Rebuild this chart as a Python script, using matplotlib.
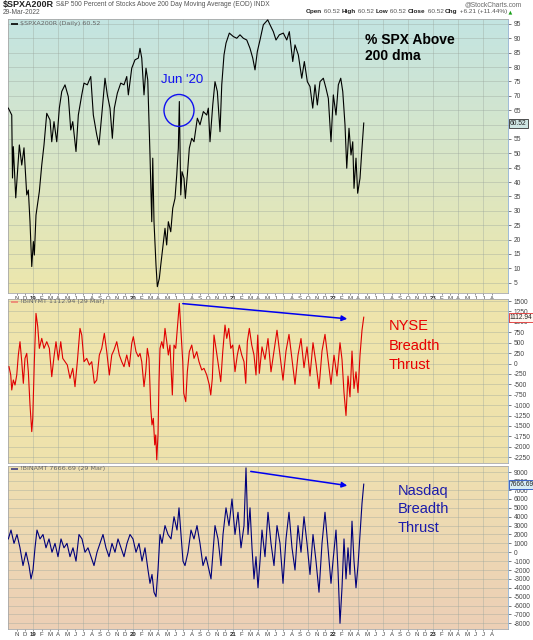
import numpy as np
import matplotlib
matplotlib.use("Agg")
import matplotlib.pyplot as plt
from matplotlib.patches import Ellipse

plt.rcParams['font.family'] = ['Liberation Sans', 'DejaVu Sans']

# time axis: months since Jan 2019 (0 = Jan 2019)
spx_t = [-3.0, -2.59, -2.5, -2.4, -2.11, -1.68, -1.39, -1.12, -0.79, -0.6, -0.4, -0.19, 0.0, 0.12,
         0.32, 0.72, 1.01, 1.28, 1.61, 2.0, 2.21, 2.48, 2.81, 3.12, 3.41, 3.8, 4.2, 4.49, 4.73, 5.12,
         5.4, 5.81, 6.08, 6.48, 6.89, 7.2, 7.61, 7.88, 8.21, 8.6, 8.88, 9.2, 9.48, 9.72, 10.08, 10.49,
         10.88, 11.21, 11.4, 11.81, 12.2, 12.6, 12.8, 13.01, 13.28, 13.52, 13.73, 14.0, 14.21, 14.33,
         14.48, 14.72, 14.88, 15.12, 15.29, 15.53, 15.8, 16.0, 16.2, 16.49, 16.73, 17.0, 17.21, 17.4,
         17.52, 17.69, 17.84, 18.08, 18.24, 18.48, 18.72, 19.01, 19.28, 19.68, 20.0, 20.4, 20.81, 21.0,
         21.2, 21.53, 21.8, 22.08, 22.4, 22.61, 22.88, 23.12, 23.52, 24.0, 24.41, 24.8, 25.2, 25.61,
         26.0, 26.33, 26.6, 26.88, 27.2, 27.6, 28.13, 28.4, 28.8, 29.12, 29.52, 30.0, 30.41, 30.72,
         31.13, 31.4, 31.8, 32.21, 32.52, 32.88, 33.2, 33.53, 33.8, 34.08, 34.4, 34.8, 35.12, 35.4,
         35.72, 36.0, 36.32, 36.6, 36.89, 37.13, 37.4, 37.61, 37.88, 38.12, 38.33, 38.48, 38.72, 38.92,
         39.2, 39.41, 39.65]
spx_v = [65.7, 63.3, 41.4, 52.3, 34.5, 52.9, 45.9, 51.9, 35.5, 37.2, 26.2, 10.6, 19.3, 14.6,
         28.5, 36.7, 45.9, 52.9, 63.9, 61.6, 54.0, 61.0, 54.0, 65.7, 71.5, 73.8, 69.7, 58.1, 61.0, 50.6,
         63.3, 70.3, 74.4, 73.8, 76.7, 63.3, 56.4, 52.9, 63.3, 76.1, 70.3, 65.7, 55.2, 65.7, 70.9, 74.4,
         73.8, 76.7, 70.3, 79.6, 82.5, 83.1, 86.5, 83.1, 70.3, 79.6, 75.5, 49.4, 26.2, 48.3,
         26.2, 11.1, 3.6, 6.5, 11.1, 17.0, 23.9, 18.1, 26.2, 22.7, 30.9, 34.3, 42.5, 51.8,
         68.0, 35.5, 43.6, 41.3, 34.3, 42.5, 51.8, 55.2, 54.0, 62.2, 59.9, 64.5, 63.3, 65.7,
         54.0, 66.8, 74.9, 71.5, 57.5, 73.8, 84.2, 88.3, 91.8, 90.6, 90.0, 91.2, 90.0, 89.4,
         86.5, 83.1, 79.0, 85.4, 89.4, 94.7, 96.4, 94.7, 92.3, 89.4, 91.2, 91.8, 89.4, 92.3,
         81.9, 87.7, 84.2, 76.1, 81.9, 74.9, 73.2, 65.7, 73.8, 66.8, 74.9, 76.1, 72.6, 69.1,
         54.0, 70.3, 63.3, 73.8, 76.1, 71.5, 59.9, 44.8, 58.7, 49.4, 54.0, 37.8, 48.3, 36.1,
         41.3, 50.6, 60.52]

nyse_t = [-2.92, -2.71, -2.59, -2.40, -2.20, -1.99, -1.80, -1.60, -1.39, -1.20, -1.00, -0.79, -0.60,
          -0.40, -0.19, -0.07, 0.12, 0.32, 0.53, 0.72, 1.01, 1.28, 1.61, 1.92, 2.21, 2.48, 2.72, 3.00,
          3.29, 3.53, 3.80, 4.08, 4.40, 4.73, 5.00, 5.28, 5.60, 5.81, 6.08, 6.41, 6.72, 7.01, 7.32,
          7.61, 7.92, 8.21, 8.52, 8.81, 9.12, 9.41, 9.68, 10.01, 10.32, 10.61, 10.88, 11.21, 11.52,
          11.81, 12.00, 12.32, 12.60, 12.80, 13.01, 13.28, 13.49, 13.68, 13.88, 14.09, 14.24, 14.40,
          14.57, 14.69, 14.81, 14.96, 15.08, 15.20, 15.41, 15.60, 15.80, 16.01, 16.20, 16.40, 16.68,
          16.88, 17.09, 17.28, 17.52, 17.72, 17.93, 18.05, 18.29, 18.48, 18.72, 19.01, 19.28, 19.61,
          19.88, 20.21, 20.48, 20.81, 21.12, 21.29, 21.48, 21.68, 21.92, 22.20, 22.49, 22.73, 23.00,
          23.21, 23.45, 23.69, 23.93, 24.20, 24.48, 24.72, 25.01, 25.28, 25.49, 25.68, 25.92, 26.21,
          26.48, 26.72, 26.93, 27.12, 27.44, 27.80, 28.16, 28.52, 28.88, 29.24, 29.60, 29.96, 30.32,
          30.68, 31.04, 31.40, 31.76, 32.12, 32.48, 32.84, 33.20, 33.56, 33.92, 34.28, 34.64, 35.00,
          35.36, 35.72, 36.08, 36.44, 36.80, 37.04, 37.28, 37.52, 37.76, 38.00, 38.24, 38.48, 38.72,
          38.96, 39.20, 39.44, 39.65]
nyse_v = [-76, -276, -636, -396, -516, -276, 204, 524, 44, -476, 124, 244, -196,
          -995, -1636, -1314, 44, 1204, 884, 364, 604, 364, 524, 364, -316, 164, 524, 84,
          524, 124, 44, -36, -356, -116, -556, 44, 844, 684, 44, 124, -36, 44, -476,
          -396, 204, 364, 724, 284, -276, 204, 324, 524, 204, 44, -76, 204, -76,
          484, 644, 284, 164, 244, 44, -556, -196, 364, 124, -1076, -1476, -1316,
          -1956, -1716, -2314, -1716, -436, 364, 524, 364, 844, 524, 204, 444, -755,
          444, 364, 844, 1445, 764, 44, -716, -916, -196, 284, 444, 124, 284,
          44, -156, -116, -276, -516, -755, -356, 684, 364, -36, -436, 284, 924,
          604, 844, 364, 444, -196, 204, 444, 204, 44, -476, 524, 844, 444,
          204, -276, 684, -236, 400, 100, 600, -200, 300, 800, 200, -400, 300,
          700, 100, -500, 200, 600, -100, 400, -300, 500, 0, -600, 300, 700,
          100, -500, 200, -300, 500, 100, -700, -1250, -300, -800, 300, -600, -200,
          -700, 200, 800, 1112.94]

nasdaq_t = [-3.0, -2.68, -2.32, -1.96, -1.60, -1.24, -0.88, -0.52, -0.28, -0.04, 0.20, 0.44, 0.80,
            1.16, 1.52, 1.88, 2.24, 2.60, 2.96, 3.32, 3.68, 4.04, 4.40, 4.76, 5.12, 5.48, 5.84, 6.20,
            6.56, 6.92, 7.28, 7.64, 8.00, 8.36, 8.72, 9.08, 9.44, 9.80, 10.16, 10.52, 10.88, 11.24,
            11.60, 11.96, 12.32, 12.68, 13.04, 13.40, 13.76, 14.00, 14.24, 14.48, 14.72, 14.96, 15.20,
            15.44, 15.80, 16.16, 16.52, 16.88, 17.24, 17.48, 17.72, 17.96, 18.20, 18.56, 18.92, 19.28,
            19.64, 20.00, 20.36, 20.72, 21.08, 21.32, 21.56, 21.80, 22.16, 22.52, 22.76, 23.12, 23.48,
            23.84, 24.20, 24.56, 24.92, 25.28, 25.52, 25.76, 26.00, 26.24, 26.48, 26.72, 26.96, 27.20,
            27.44, 27.80, 28.16, 28.52, 28.88, 29.24, 29.60, 29.96, 30.32, 30.68, 31.04, 31.40, 31.76,
            32.12, 32.48, 32.84, 33.20, 33.56, 33.92, 34.28, 34.64, 35.00, 35.36, 35.72, 35.96, 36.32,
            36.56, 36.80, 37.04, 37.28, 37.52, 37.76, 38.00, 38.24, 38.48, 38.72, 38.96, 39.20, 39.44,
            39.65]
nasdaq_v = [1500, 2500, 1000, 2000, 500, -1500, 0, -1500, -3000, -2000, 500, 2500, 1500,
            2000, 500, 1500, 0, 1000, -500, 1500, 500, 1000, -500, 500, -1000, 2000, 1500, 0,
            500, -500, -1500, 0, 1000, 2000, 500, -500, 1000, 0, 1500, 500, -500, 1000,
            2000, 1500, 0, 1000, -1000, 500, -2000, -3500, -2500, -4500, -5000, -2000, 2000,
            1000, 3000, 2000, 1500, 4000, 2500, 5000, 2000, -1000, -1500, 0, 2500, 1500,
            3000, 1000, -1500, -500, -2000, -3000, 0, 3000, 1500, -1500, 2000, 5000, 3000,
            6000, 2000, 4500, 500, 3000, 9500, 2000, 5000, 500, -3000, -500, -4000, -1000,
            2500, -500, 4500, 1000, -1500, 3000, 1000, -3500, 1500, 4500, 500, -2000, 3000,
            0, 4000, 1000, -2500, 2000, -1000, -4500, 1000, 4500, 500, -3500, -1000, 2500,
            -2000, -8000, -4000, 1500, -3000, 500, -2500, 3500, -1000, -4000, -1500, 2000, 5500,
            7666.69]

month_letters = "JFMAMJJASOND"
month_pos = list(range(-2, 56))
month_labels = [str(19 + m // 12) if m % 12 == 0 else month_letters[m % 12] for m in month_pos]

fig = plt.figure(figsize=(5.33, 6.4), dpi=100)
L, W = 8 / 533, 500 / 533
ax1 = fig.add_axes([L, 1 - 293 / 640, W, 274 / 640])
ax2 = fig.add_axes([L, 1 - 463 / 640, W, 164 / 640])
ax3 = fig.add_axes([L, 1 - 629 / 640, W, 163 / 640])
GRID = '#9aa59c'


def gradient(ax, top, bottom):
    c = np.linspace(np.array(top) / 255, np.array(bottom) / 255, 256)[:, None, :]
    ax.imshow(c, extent=(0, 1, 0, 1), transform=ax.transAxes, aspect='auto', zorder=0)


def setup(ax, ylim, yticks, labels, hide=None):
    ax.set_xlim(-3.04, 56.96)
    ax.set_ylim(*ylim)
    for q in range(0, 57, 3):
        ax.axvline(q, color=GRID, lw=0.45, alpha=0.6, zorder=1)
    ax.set_yticks(yticks)
    ax.set_yticklabels(['' if v == hide else str(v) for v in yticks])
    ax.yaxis.tick_right()
    ax.tick_params(axis='y', labelsize=4.8, length=2, width=0.5, pad=2, colors='#444')
    ax.grid(True, axis='y', color=GRID, lw=0.45, alpha=0.6)
    for s in ax.spines.values():
        s.set_color('#a8a8a8')
        s.set_linewidth(0.6)
    ax.spines['right'].set_color('#8fb0d0')
    ax.spines['right'].set_linestyle((0, (1, 1)))
    ax.set_xticks(month_pos)
    if labels:
        ax.set_xticklabels(month_labels)
        ax.tick_params(axis='x', labelsize=4.3, length=1.2, width=0.4, pad=0.6, colors='#444')
        for lab, m in zip(ax.get_xticklabels(), month_pos):
            if m % 12 == 0:
                lab.set_fontweight('bold')
                lab.set_color('#222')
    else:
        ax.set_xticklabels([])
        ax.tick_params(axis='x', length=0)


def legend(ax, color, text):
    ax.plot([0.005, 0.02], [0.982, 0.982], transform=ax.transAxes, color=color, lw=1.2,
            solid_capstyle='butt', zorder=5)
    ax.text(0.025, 0.982, text, transform=ax.transAxes, fontsize=4.6, color='#666',
            va='center', ha='left', family='DejaVu Sans', zorder=5)


def value_box(ax, y, text, fc, ec):
    ax.text(1.004, y, text, transform=ax.get_yaxis_transform(), fontsize=4.8, va='center',
            ha='left', color='#222', zorder=6,
            bbox=dict(boxstyle='square,pad=0.15', fc=fc, ec=ec, lw=0.6))


# panel 1
gradient(ax1, (195, 228, 226), (237, 231, 172))
ax1.plot(spx_t, spx_v, color='black', lw=0.8, zorder=3)
setup(ax1, (1.4, 96.7), list(range(5, 100, 5)), True, hide=60)
legend(ax1, 'black', '$SPXA200R (Daily) 60.52')
value_box(ax1, spx_v[-1], '60.52', '#cfe6e4', '#333')
ax1.add_patch(Ellipse((17.48, 64.9), 3.6, 11.1, fill=False, ec='#1010f0', lw=1.0, zorder=4))
ax1.text(17.8, 75.5, "Jun '20", color='#1010f0', fontsize=9.5, ha='center', va='center')
ax1.text(39.8, 92.0, "% SPX Above\n200 dma", fontsize=10, fontweight='bold', va='top',
         ha='left', linespacing=1.25)

# panel 2
gradient(ax2, (238, 229, 172), (239, 226, 172))
ax2.plot(nyse_t, nyse_v, color='#e00000', lw=0.8, zorder=3)
setup(ax2, (-2390, 1550), list(range(-2250, 1501, 250)), False)
legend(ax2, '#f08070', '!BINYMT 1112.94 (29 Mar)')
value_box(ax2, nyse_v[-1], '1112.94', '#fff6f0', '#e03030')
ax2.annotate('', xy=(38.0, 1068), xytext=(17.6, 1445),
             arrowprops=dict(arrowstyle='-|>', color='#0000f0', lw=1.1, mutation_scale=8))
ax2.text(42.6, 1060, "NYSE\nBreadth\nThrust", color='#e80000', fontsize=10.5, va='top',
         ha='left', linespacing=1.5)

# panel 3
gradient(ax3, (239, 224, 176), (236, 207, 182))
ax3.plot(nasdaq_t, nasdaq_v, color='#00007a', lw=0.8, zorder=3)
setup(ax3, (-8640, 9710), list(range(-8000, 9001, 1000)), True)
legend(ax3, '#404080', '!BINAMT 7666.69 (29 Mar)')
value_box(ax3, nasdaq_v[-1], '7666.69', '#d6ecf4', '#2050c0')
ax3.annotate('', xy=(38.0, 7457), xytext=(25.76, 9146),
             arrowprops=dict(arrowstyle='-|>', color='#0000f0', lw=1.1, mutation_scale=8))
ax3.text(43.75, 7700, "Nasdaq\nBreadth\nThrust", color='#1c1caa', fontsize=10.5, va='top',
         ha='left', linespacing=1.4)

# header
t = fig.text(3 / 533, 1 - 5 / 640, '$SPXA200R', fontsize=6.5, fontweight='bold', va='center',
             ha='left', color='#222')
ax1.annotate(' S&P 500 Percent of Stocks Above 200 Day Moving Average (EOD) INDX',
             xy=(1, 0.5), xycoords=t, va='center', ha='left', fontsize=4.8, color='#555',
             annotation_clip=False)
fig.text(3 / 533, 1 - 12 / 640, '29-Mar-2022', fontsize=4.8, va='center', ha='left', color='#555')
fig.text(522 / 533, 1 - 5 / 640, '@StockCharts.com', fontsize=4.8, va='center', ha='right',
         color='#666')
parts = [('Open', 'bold'), (' 60.52 ', 'normal'), ('High', 'bold'), (' 60.52 ', 'normal'),
         ('Low', 'bold'), (' 60.52 ', 'normal'), ('Close', 'bold'), (' 60.52 ', 'normal'),
         ('Chg', 'bold'), (' +6.21 (+11.44%)', 'normal')]
t = fig.text(306 / 533, 1 - 14 / 640, parts[0][0], fontsize=4.6, fontweight='bold',
             va='bottom', ha='left', color='#222')
for s, w in parts[1:]:
    t = ax1.annotate(s, xy=(1, 0), xycoords=t, va='bottom', ha='left', fontsize=4.6,
                     fontweight=w, color='#222' if w == 'bold' else '#555',
                     annotation_clip=False)
ax1.annotate(' ▲', xy=(1, 0), xycoords=t, va='bottom', ha='left', fontsize=3.5,
             color='#18a018', annotation_clip=False, family='DejaVu Sans')

fig.savefig('out.png', dpi=100)
